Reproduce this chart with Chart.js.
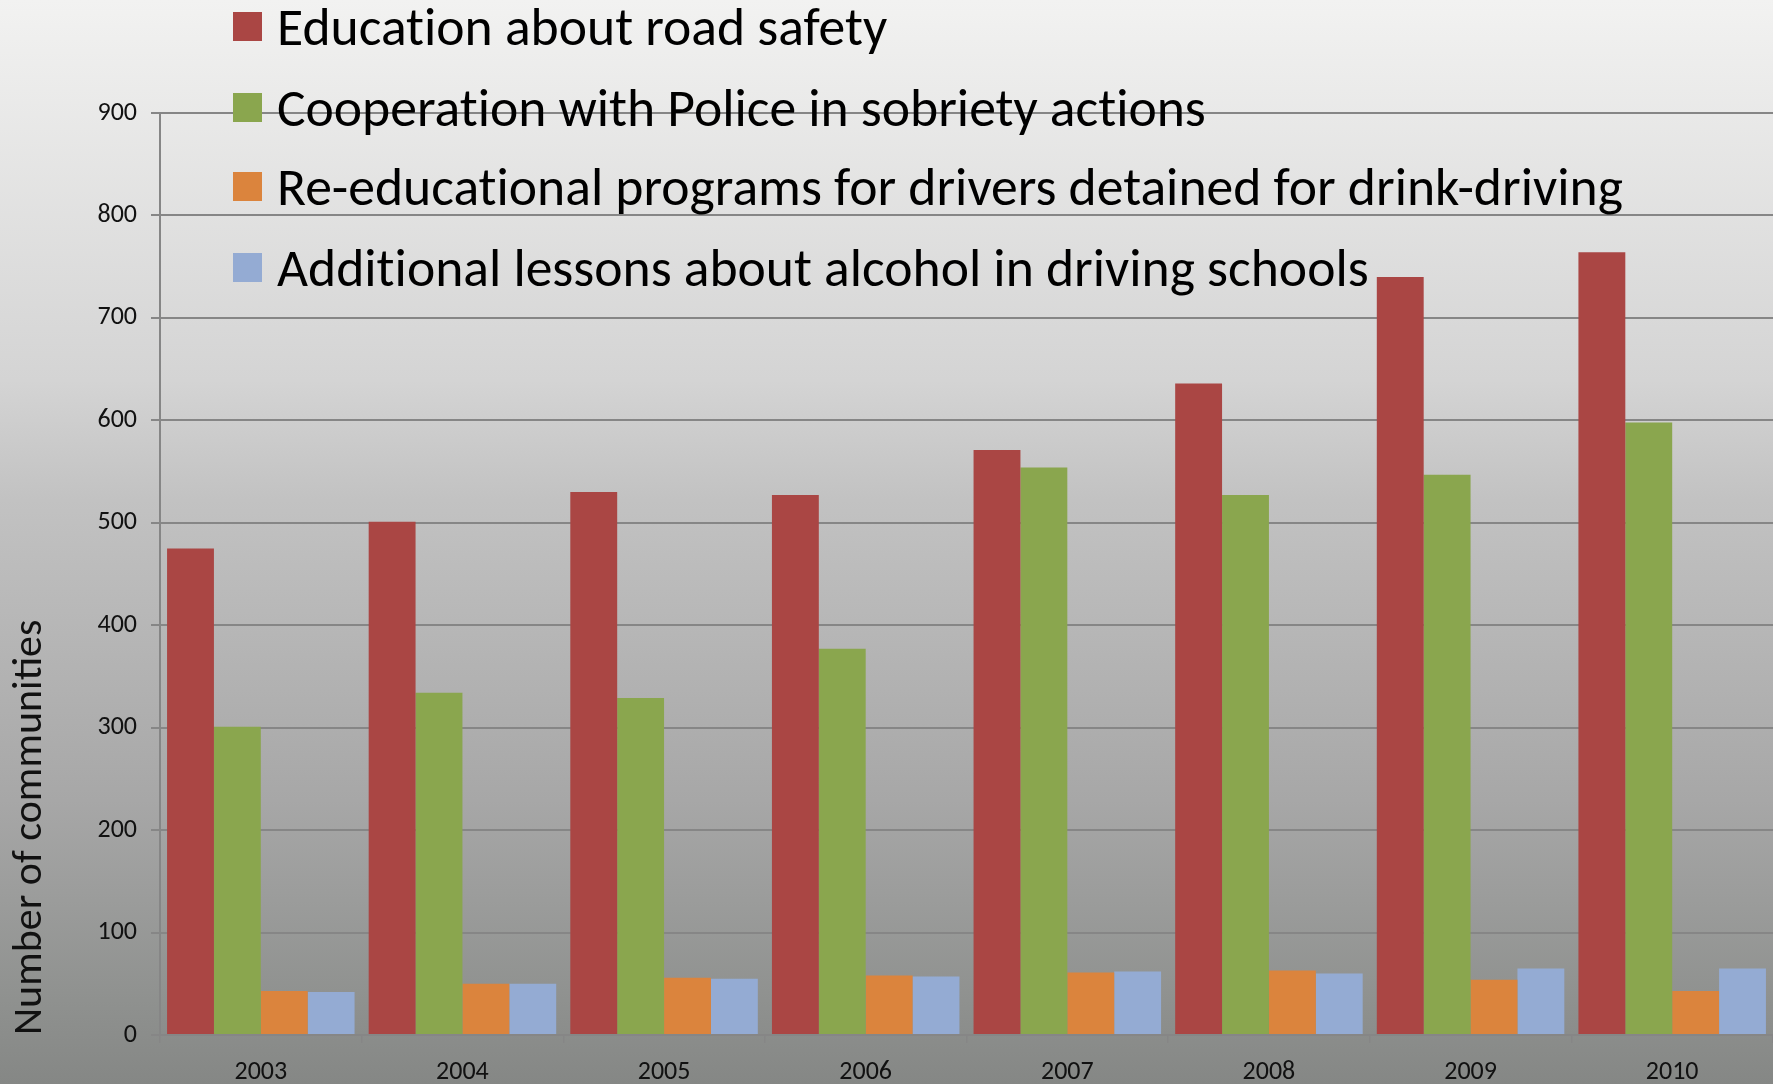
<!DOCTYPE html>
<html>
<head>
<meta charset="utf-8">
<script src="https://cdn.jsdelivr.net/npm/chart.js@4/dist/chart.umd.min.js"></script>
<style>
  html, body { margin: 0; padding: 0; }
  body {
    width: 1773px; height: 1084px; overflow: hidden; position: relative;
    background: linear-gradient(to bottom, #f2f2f1 0px, #d4d4d4 380px, #c2c2c2 500px, #a7a7a7 800px, #8f918f 1000px, #858785 1084px);
    font-family: Carlito, Lato, "Open Sans", sans-serif;
  }
  #wrap { position: absolute; left: 0; top: 0; width: 1773px; height: 1084px; }
  #legend { position: absolute; left: 233px; top: 0; }
  .item { position: absolute; left: 0; display: flex; align-items: center; height: 64px; white-space: nowrap; }
  .box { width: 29px; height: 29px; margin-right: 15px; }
  .lbl { font-size: 53.6px; color: #000; font-variant-ligatures: none; }
</style>
</head>
<body>
<div id="wrap"><canvas id="chart" width="1773" height="1084"></canvas></div>
<div id="legend"></div>
<script>
const years = ['2003', '2004', '2005', '2006', '2007', '2008', '2009', '2010'];
const seriesNames = [
  'Education about road safety',
  'Cooperation with Police in sobriety actions',
  'Re-educational programs for drivers detained for drink-driving',
  'Additional lessons about alcohol in driving schools'
];
const education = [475, 501, 530, 527, 571, 636, 740, 764];
const police = [301, 334, 329, 377, 554, 527, 547, 598];
const reEducation = [43, 50, 56, 58, 61, 63, 54, 43];
const lessons = [42, 50, 55, 57, 62, 60, 65, 65];
const colors = ['#aa4644', '#8aa64e', '#db843d', '#94abd3'];
const legendRows = [26, 107, 186, 267];

const allSeries = [education, police, reEducation, lessons];

// legend drawn over the plot like in the original
const legend = document.getElementById('legend');
seriesNames.forEach((name, i) => {
  const row = document.createElement('div');
  row.className = 'item';
  row.style.top = (legendRows[i] - 32) + 'px';
  row.innerHTML = '<span class="box" style="background:' + colors[i] + '"></span><span class="lbl">' + name + '</span>';
  legend.appendChild(row);
});

const fontFam = 'Carlito, Lato, "Open Sans", sans-serif';
const gridColor = '#868686';
const ctx = document.getElementById('chart').getContext('2d');
new Chart(ctx, {
  type: 'bar',
  data: {
    labels: years,
    datasets: allSeries.map((vals, i) => ({
      label: seriesNames[i],
      data: vals,
      backgroundColor: colors[i],
      borderWidth: 0,
      barPercentage: 1,
      categoryPercentage: 0.93
    }))
  },
  options: {
    responsive: false,
    animation: false,
    layout: { padding: { top: 113, right: 0, bottom: 0, left: 0 } },
    plugins: {
      legend: { display: false },
      tooltip: { enabled: false }
    },
    scales: {
      x: {
        grid: { offset: true, drawOnChartArea: false, drawTicks: true, tickLength: 8, color: gridColor, lineWidth: 1.5 },
        border: { display: false },
        ticks: { color: '#111', padding: 14, font: { family: fontFam, size: 26 } },
        afterFit: scale => { scale.height = 49; }
      },
      y: {
        min: 0,
        max: 900,
        ticks: { stepSize: 100, color: '#111', padding: 14, font: { family: fontFam, size: 26 } },
        grid: { color: gridColor, lineWidth: 2, tickLength: 9 },
        border: { color: gridColor, width: 2 },
        title: {
          display: true,
          text: 'Number of communities',
          align: 'start',
          color: '#111',
          padding: { top: 5, bottom: 0 },
          font: { family: fontFam, size: 42 }
        },
        afterFit: scale => { scale.width = 160; }
      }
    }
  }
});
</script>
</body>
</html>
